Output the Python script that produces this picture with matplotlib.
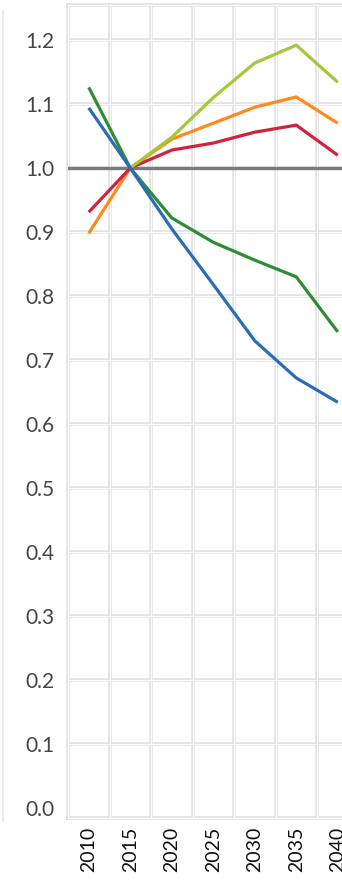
import numpy as np
import matplotlib.pyplot as plt
from matplotlib.lines import Line2D

plt.rcParams['font.family'] = ['Lato', 'DejaVu Sans']

# data (index relative to 2015 = 1.0)
years = ['2010', '2015', '2020', '2025', '2030', '2035', '2040']
blue = [1.094, 1.0, 0.905, 0.818, 0.730, 0.672, 0.634]
green = [1.126, 1.0, 0.922, 0.884, 0.856, 0.830, 0.744]
red = [0.931, 1.0, 1.028, 1.039, 1.056, 1.067, 1.020]
orange = [0.898, 1.0, 1.045, 1.070, 1.095, 1.111, 1.070]
lime = [np.nan, 1.0, 1.048, 1.110, 1.164, 1.192, 1.134]
yticks = [0.0, 0.1, 0.2, 0.3, 0.4, 0.5, 0.6, 0.7, 0.8, 0.9, 1.0, 1.1, 1.2]

W, H = 342, 885
fig = plt.figure(figsize=(W / 100, H / 100), dpi=100)
ax_left, ax_right, ax_top, ax_bot = 68, 358.5, 5, 818
ax = fig.add_axes([ax_left / W, 1 - ax_bot / H, (ax_right - ax_left) / W, (ax_bot - ax_top) / H])

x = np.arange(len(years))
ax.set_xlim(-0.5, len(years) - 0.5)
ax.set_ylim(-0.0156, 1.2547)


def dgrid(pos, horizontal):
    # doubled light grid line: wide grey with a thin white core
    f = ax.axhline if horizontal else ax.axvline
    f(pos, color='#e3e3e3', lw=2.6, zorder=0, clip_on=False)
    f(pos, color='white', lw=0.7, zorder=0.1, clip_on=False)


for b in np.arange(-0.5, len(years), 1.0):
    dgrid(b, False)
for v in yticks[1:]:
    dgrid(v, True)
dgrid(ax.get_ylim()[0], True)
dgrid(ax.get_ylim()[1], True)

ax.axhline(1.0, color='#7a7a7a', lw=2.4, zorder=2)

for ys, c in [(orange, '#ff8a1c'), (red, '#d2233c'), (lime, '#a3c83a'),
              (green, '#2f8c34'), (blue, '#2a6db5')]:
    ax.plot(x, ys, color=c, lw=2.3, zorder=3, solid_capstyle='butt')

for s in ax.spines.values():
    s.set_visible(False)

ax.set_yticks(yticks)
ax.set_yticklabels([f'{v:.1f}' for v in yticks])
ax.set_xticks(x)
ax.set_xticklabels(years, rotation=90)
ax.tick_params(axis='y', length=0, pad=9.5, labelsize=15, labelcolor='#454545')
ax.tick_params(axis='x', length=0, pad=6.5, labelsize=14, labelcolor='#111111')

# faint edge of the neighbouring panel on the left
fig.add_artist(Line2D([3 / W, 3 / W], [1 - 10 / H, 1 - 822 / H], color='#e6e6e6', lw=1.2))

fig.savefig('out.png', dpi=100)
